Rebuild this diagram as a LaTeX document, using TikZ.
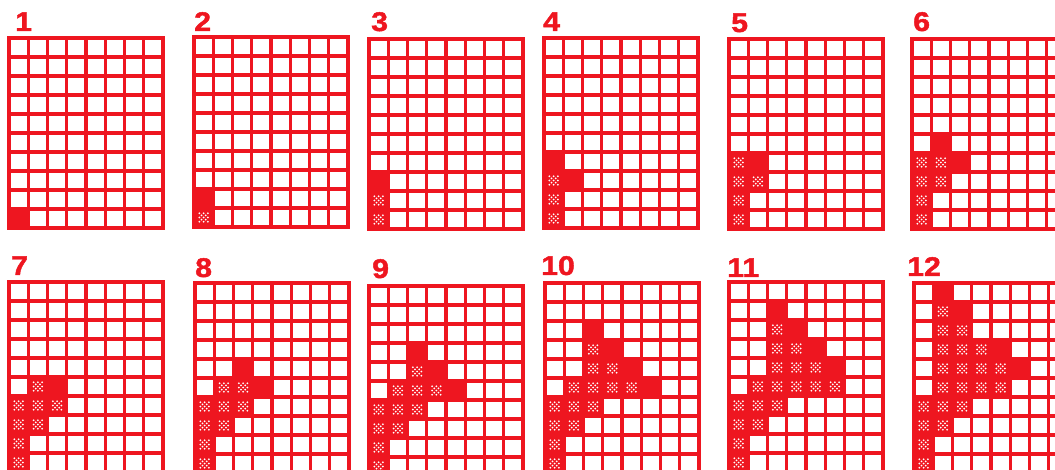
\documentclass[tikz,border=0pt]{standalone}
\usepackage{fontspec}
\newfontfamily\numfont[FakeStretch=1.12,BoldFeatures={FakeBold=1.6}]{Liberation Sans}
\definecolor{rojo}{RGB}{238,22,32}
\newcommand\lleno[2]{\fill[rojo] ({(#1-1)*19.25},{(#2-1)*19}) rectangle ++(19.25,19);}
\newcommand\trama[2]{%
  \lleno{#1}{#2}%
  \foreach \dx/\dy in {-2/-2,0/-2,2/-2,-1/-1,1/-1,-2/0,0/0,2/0,-1/1,1/1,-2/2,0/2,2/2}
    {\fill[white] ({(#1-.5)*19.25+\dx*2.1},{(#2-.5)*19+\dy*2.1}) circle (1pt);}}
\tikzset{
  linea/.style={rojo,line width=3.4pt},
  borde/.style={rojo,line width=4pt},
  numero/.style={
    text=rojo,
    font=\numfont\bfseries\fontsize{27}{27}\selectfont,
    inner sep=0pt,
    anchor=base west
  },
  rejilla/.pic={
    \foreach \i in {1,...,7} \draw[linea] (\i*19.25,0) -- (\i*19.25,190);
    \foreach \j in {1,...,9} \draw[linea] (0,\j*19) -- (154,\j*19);
    \draw[borde] (0,0) rectangle (154,190);
  }
}
\begin{document}
\begin{tikzpicture}[x=1pt,y=-1pt]
\useasboundingbox (0,0) rectangle (1055,470);
\clip (0,0) rectangle (1055,470);
% fila de arriba
\begin{scope}[shift={(9,38)}]
\lleno{1}{10}
\pic {rejilla};
\end{scope}
\node[numero] (n1) at (15,31) {1};
\begin{scope}[shift={(194,37)}]
\lleno{1}{9}
\trama{1}{10}
\pic {rejilla};
\end{scope}
\node[numero] (n2) at (194,31) {2};
\begin{scope}[shift={(369,39)}]
\lleno{1}{8}
\foreach \c/\r in {1/9,1/10} {\trama{\c}{\r}}
\pic {rejilla};
\end{scope}
\node[numero] (n3) at (371,31) {3};
\begin{scope}[shift={(544,38)}]
\foreach \c/\r in {1/7,2/8} {\lleno{\c}{\r}}
\foreach \c/\r in {1/8,1/9,1/10} {\trama{\c}{\r}}
\pic {rejilla};
\end{scope}
\node[numero] (n4) at (543,31) {4};
\begin{scope}[shift={(729,39)}]
\lleno{2}{7}
\foreach \c/\r in {1/7,1/8,2/8,1/9,1/10} {\trama{\c}{\r}}
\pic {rejilla};
\end{scope}
\node[numero] (n5) at (731,32) {5};
\begin{scope}[shift={(912,39)}]
\foreach \c/\r in {2/6,3/7} {\lleno{\c}{\r}}
\foreach \c/\r in {1/7,2/7,1/8,2/8,1/9,1/10} {\trama{\c}{\r}}
\pic {rejilla};
\end{scope}
\node[numero] (n6) at (913,31) {6};
% fila de abajo
\begin{scope}[shift={(9,282)}]
\lleno{3}{6}
\foreach \c/\r in {2/6,1/7,2/7,3/7,1/8,2/8,1/9,1/10} {\trama{\c}{\r}}
\pic {rejilla};
\end{scope}
\node[numero] (n7) at (11,275) {7};
\begin{scope}[shift={(195,283)}]
\foreach \c/\r in {3/5,4/6} {\lleno{\c}{\r}}
\foreach \c/\r in {2/6,3/6,1/7,2/7,3/7,1/8,2/8,1/9,1/10} {\trama{\c}{\r}}
\pic {rejilla};
\end{scope}
\node[numero] (n8) at (195,277) {8};
\begin{scope}[shift={(369,286)}]
\foreach \c/\r in {3/4,4/5,5/6} {\lleno{\c}{\r}}
\foreach \c/\r in {3/5,2/6,3/6,4/6,1/7,2/7,3/7,1/8,2/8,1/9,1/10} {\trama{\c}{\r}}
\pic {rejilla};
\end{scope}
\node[numero] (n9) at (372,278) {9};
\begin{scope}[shift={(545,283)}]
\foreach \c/\r in {3/3,4/4,5/5,6/6} {\lleno{\c}{\r}}
\foreach \c/\r in {3/4,3/5,4/5,2/6,3/6,4/6,5/6,1/7,2/7,3/7,1/8,2/8,1/9,1/10} {\trama{\c}{\r}}
\pic {rejilla};
\end{scope}
\node[numero] (n10) at (541,275) {10};
\begin{scope}[shift={(729,282)}]
\foreach \c/\r in {3/2,4/3,5/4,6/5} {\lleno{\c}{\r}}
\foreach \c/\r in {3/3,3/4,4/4,3/5,4/5,5/5,2/6,3/6,4/6,5/6,6/6,1/7,2/7,3/7,1/8,2/8,1/9,1/10} {\trama{\c}{\r}}
\pic {rejilla};
\end{scope}
\node[numero] (n11) at (727,277) {11};
\begin{scope}[shift={(914,283)}]
\foreach \c/\r in {2/1,3/2,5/4,6/5} {\lleno{\c}{\r}}
\foreach \c/\r in {2/2,2/3,3/3,2/4,3/4,4/4,2/5,3/5,4/5,5/5,2/6,3/6,4/6,5/6,1/7,2/7,3/7,1/8,2/8,1/9,1/10} {\trama{\c}{\r}}
\pic {rejilla};
\end{scope}
\node[numero] (n12) at (907,276) {12};
\end{tikzpicture}
\end{document}
